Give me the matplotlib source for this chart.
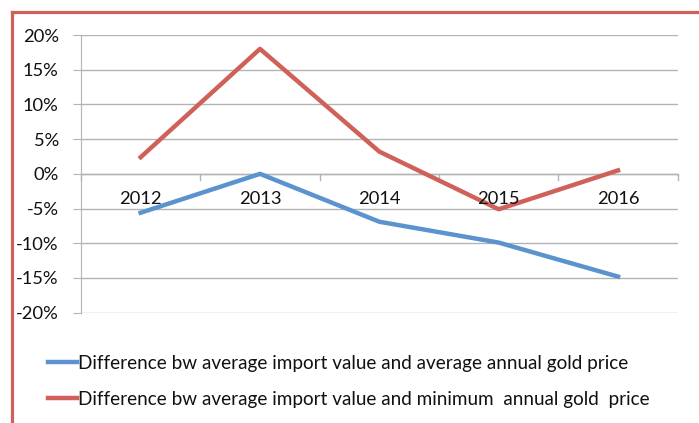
import matplotlib.pyplot as plt
from matplotlib.lines import Line2D
from matplotlib.ticker import FuncFormatter

# data
years = ['2012', '2013', '2014', '2015', '2016']
diff_avg = [-5.6, 0.0, -6.9, -9.9, -14.8]     # % vs average annual gold price
diff_min = [2.4, 18.0, 3.2, -5.1, 0.5]        # % vs minimum annual gold price
label_avg = 'Difference bw average import value and average annual gold price'
label_min = 'Difference bw average import value and minimum  annual gold  price'

blue = '#5B93CF'
red = '#D0615A'
grid_col = '#B3B3B3'
fs = 13.2

plt.rcParams['font.family'] = ['Lato', 'DejaVu Sans']

W, H = 699, 423
fig = plt.figure(figsize=(W / 100, H / 100), dpi=100)
ax = fig.add_axes([81 / W, 1 - 312.7 / H, (677.7 - 81) / W, (312.7 - 35) / H])

x = list(range(len(years)))
ax.plot(x, diff_avg, color=blue, lw=3.2, label=label_avg, zorder=3)
ax.plot(x, diff_min, color=red, lw=3.2, label=label_min, zorder=3)

ax.set_xlim(-0.5, len(years) - 0.5)
ax.set_ylim(-20, 20)
ax.set_yticks(range(-20, 21, 5))
ax.yaxis.set_major_formatter(FuncFormatter(lambda v, p: f'{v:.0f}%'))
ax.yaxis.grid(True, color=grid_col, lw=1)
ax.set_axisbelow(True)

# category axis sits on the 0% line
for s in ['top', 'right', 'bottom']:
    ax.spines[s].set_visible(False)
ax.spines['left'].set_color(grid_col)
ax.axhline(0, color=grid_col, lw=1, zorder=2)

ax.set_xticks([])
for xb in [i - 0.5 for i in range(len(years) + 1)]:
    ax.plot([xb, xb], [0, -0.85], color=grid_col, lw=1, zorder=2, clip_on=False)
for i, yr in enumerate(years):
    ax.text(i, -3.6, yr, ha='center', va='center', fontsize=fs, color='#111111')

ax.tick_params(axis='y', length=6, color=grid_col, labelsize=fs, pad=10,
               labelcolor='#111111')

fig.legend(handles=[Line2D([], [], color=blue, lw=3.2, label=label_avg),
                    Line2D([], [], color=red, lw=3.2, label=label_min)],
           loc='upper left', bbox_to_anchor=(48 / W, 1 - 355 / H),
           frameon=False, fontsize=13.6, handlelength=1.55, handletextpad=0.05,
           labelspacing=1.0, borderpad=0, borderaxespad=0, labelcolor='#111111')

# red frame on left and top
fig.add_artist(Line2D([11.5 / W, 11.5 / W], [0, 1 - 12 / H], color=red, lw=2.3))
fig.add_artist(Line2D([11.5 / W, 1], [1 - 12 / H, 1 - 12 / H], color=red, lw=2.3))

fig.savefig('out.png', dpi=100)
